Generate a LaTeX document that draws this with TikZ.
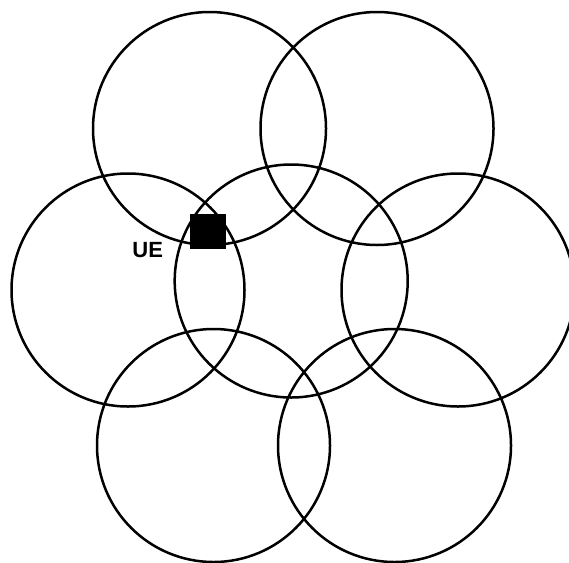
\documentclass[tikz,border=0pt]{standalone}
\usepackage{fontspec}
\setmainfont{Liberation Sans}
\begin{document}
\begin{tikzpicture}[x=1pt,y=-1pt,
  cell/.style={circle,draw=black,line width=2.5pt,minimum size=233pt,inner sep=0pt},
  ue/.style={rectangle,fill=black,minimum width=36pt,minimum height=35pt,inner sep=0pt},
  uelabel/.style={font=\fontsize{22}{26}\selectfont\bfseries,inner sep=0pt,text=black}]
\useasboundingbox (0,0) rectangle (569,562);
\begin{scope}
\clip (0,0) rectangle (569,562);
\node[cell] (tl) at (209.5,128.5) {};
\node[cell] (tr) at (377,128.5) {};
\node[cell] (l) at (128,290) {};
\node[cell] (m) at (291.2,281) {};
\node[cell] (r) at (458,290) {};
\node[cell] (bl) at (213.5,445.5) {};
\node[cell] (br) at (394.5,445.5) {};
\end{scope}
\node[ue] (uebox) at (208,231.5) {};
\node[uelabel] (uetext) at (147.7,250) {UE};
\end{tikzpicture}
\end{document}
